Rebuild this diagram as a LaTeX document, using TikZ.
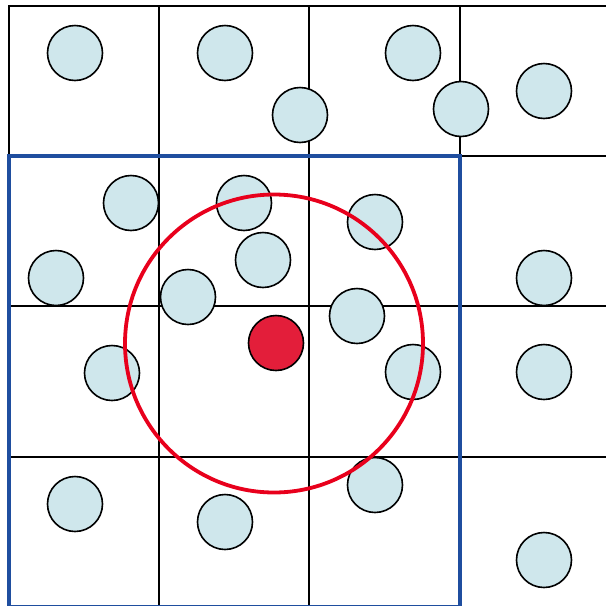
\documentclass[tikz,border=0pt]{standalone}
\definecolor{dotfill}{HTML}{CFE7EC}
\definecolor{hotred}{HTML}{E31E3A}
\definecolor{ringred}{HTML}{E8001C}
\definecolor{boxblue}{HTML}{1F4E9F}
\tikzset{
  gridline/.style={draw=black, line width=1.6pt},
  dot/.style={circle, draw=black, line width=1.6pt, fill=dotfill, minimum size=55pt, inner sep=0pt},
  hotdot/.style={circle, draw=black, line width=1.6pt, fill=hotred, minimum size=55pt, inner sep=0pt},
  ring/.style={circle, draw=ringred, line width=3.8pt, minimum size=298pt, inner sep=0pt},
  cellbox/.style={draw=boxblue, line width=3.5pt},
}
\begin{document}
\begin{tikzpicture}[x=1pt,y=-1pt]
\useasboundingbox (0,0) rectangle (606,606);
% grid
\draw[gridline] (9,606) -- (9,6) -- (606,6);
\foreach \x in {159,309,460} \draw[gridline] (\x,6) -- (\x,606);
\foreach \y in {156,306,457} \draw[gridline] (9,\y) -- (606,\y);
% blue box
\draw[cellbox] (9,156) rectangle (460,607);
% particles
\foreach \n/\x/\y in {a/75/53, b/225/53, c/413/53, d/300/115, e/461/109, f/544/91,
  g/131/203, h/244/203, i/375/222, j/263/260, k/56/278, l/188/297, m/357/316, n/544/278,
  o/112/373, p/413/372, q/544/372, r/75/504, s/225/522, t/375/485, u/544/560}
  \node[dot] (\n) at (\x,\y) {};
\node[hotdot] (hot) at (276,343) {};
\node[ring] (cut) at (274,343.5) {};
\end{tikzpicture}
\end{document}
